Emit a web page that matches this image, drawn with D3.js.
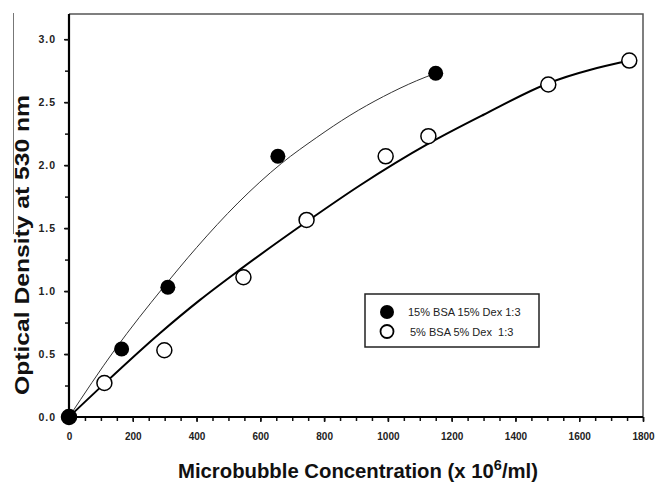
<!DOCTYPE html>
<html>
<head>
<meta charset="utf-8">
<script src="https://cdn.jsdelivr.net/npm/d3@7"></script>
<style>
  html, body { margin: 0; padding: 0; background: #fff; }
  svg { display: block; font-family: Arial, "Liberation Sans", sans-serif; }
</style>
</head>
<body>
<div id="chart"></div>
<script>
// measured points
const bsa15X = [0, 165, 310, 655, 1150];
const bsa15Y = [0, 0.54, 1.03, 2.07, 2.73];
const bsa5X = [0, 111, 299, 547, 745, 993, 1127, 1503, 1757];
const bsa5Y = [0, 0.27, 0.53, 1.11, 1.565, 2.07, 2.23, 2.64, 2.83];

// fitted curves
const fit15X = [0, 144, 296, 400, 530, 667, 777, 881, 986, 1090, 1150];
const fit15Y = [0, 0.535, 1.03, 1.345, 1.70, 2.015, 2.22, 2.395, 2.545, 2.67, 2.73];
const fit5X = [0, 111, 285, 411, 536, 745, 913, 1127, 1300, 1503, 1757];
const fit5Y = [0, 0.265, 0.665, 0.93, 1.17, 1.55, 1.84, 2.17, 2.40, 2.65, 2.83];

const xTicks = [0, 200, 400, 600, 800, 1000, 1200, 1400, 1600, 1800];
const yTicks = [0.0, 0.5, 1.0, 1.5, 2.0, 2.5, 3.0];
const legendLabels = ["15% BSA 15% Dex 1:3", "5% BSA 5% Dex\u00a0 1:3"];

const width = 659, height = 483;
const margin = { top: 14, left: 69, right: 16, bottom: 66 };
const innerW = width - margin.left - margin.right;
const innerH = height - margin.top - margin.bottom;

const svg = d3.select("#chart").append("svg")
  .attr("width", width)
  .attr("height", height);

const x = d3.scaleLinear().domain([0, 1800]).range([0, innerW]);
const y = d3.scaleLinear().domain([0, 3.2]).range([innerH, 0]);

// stray scan line at the left edge
svg.append("line")
  .attr("x1", 13.5).attr("x2", 13.5)
  .attr("y1", 13).attr("y2", 234)
  .attr("stroke", "#777").attr("stroke-width", 1);

const g = svg.append("g")
  .attr("transform", `translate(${margin.left}, ${margin.top})`);

// frame top/right
g.append("path")
  .attr("d", `M0,0H${innerW}V${innerH}`)
  .attr("fill", "none")
  .attr("stroke", "#555")
  .attr("stroke-width", 1.5);

// minor ticks
const xAxisMinor = d3.axisBottom(x)
  .tickValues(d3.range(0, 1801, 50))
  .tickSize(4).tickFormat("");
const yAxisMinor = d3.axisLeft(y)
  .tickValues(d3.range(0, 3.01, 0.25))
  .tickSize(4).tickFormat("");

g.append("g")
  .attr("transform", `translate(0, ${innerH})`)
  .call(xAxisMinor)
  .call(a => a.select(".domain").remove())
  .selectAll("line").attr("stroke", "#111").attr("stroke-width", 1.5);

g.append("g")
  .call(yAxisMinor)
  .call(a => a.select(".domain").remove())
  .selectAll("line").attr("stroke", "#111").attr("stroke-width", 1.5);

const xAxis = g.append("g")
  .attr("transform", `translate(0, ${innerH})`)
  .call(d3.axisBottom(x).tickValues(xTicks).tickSize(5).tickSizeOuter(0).tickPadding(11).tickFormat(d3.format("d")));

const yAxis = g.append("g")
  .call(d3.axisLeft(y).tickValues(yTicks).tickSize(5).tickSizeOuter(0).tickPadding(8).tickFormat(d3.format(".1f")));

[xAxis, yAxis].forEach(a => {
  a.select(".domain").attr("stroke", "#000").attr("stroke-width", 2.2)
    .attr("d", a === xAxis ? `M0,0H${innerW}` : `M0,${innerH}V0`);
  a.selectAll(".tick line").attr("stroke", "#111").attr("stroke-width", 1.5);
  a.selectAll(".tick text")
    .attr("fill", "#222")
    .style("font-size", "10px")
    .style("font-weight", "bold");
});
yAxis.selectAll(".tick text")
  .style("font-size", "10.5px")
  .style("letter-spacing", "1px");

// curves
const line = d3.line()
  .x(d => x(d[0]))
  .y(d => y(d[1]))
  .curve(d3.curveMonotoneX);

g.append("path")
  .datum(d3.zip(fit15X, fit15Y))
  .attr("fill", "none")
  .attr("stroke", "#333")
  .attr("stroke-width", 1)
  .attr("d", line);

g.append("path")
  .datum(d3.zip(fit5X, fit5Y))
  .attr("fill", "none")
  .attr("stroke", "#000")
  .attr("stroke-width", 2)
  .attr("d", line);

// points
g.selectAll(".p5")
  .data(d3.zip(bsa5X, bsa5Y))
  .join("circle")
  .attr("class", "p5")
  .attr("cx", d => x(d[0]))
  .attr("cy", d => y(d[1]))
  .attr("r", 7.5)
  .attr("fill", "#fff")
  .attr("stroke", "#000")
  .attr("stroke-width", 1.5);

g.selectAll(".p15")
  .data(d3.zip(bsa15X, bsa15Y))
  .join("circle")
  .attr("class", "p15")
  .attr("cx", d => x(d[0]))
  .attr("cy", d => y(d[1]))
  .attr("r", 7.5)
  .attr("fill", "#000");

// legend
const legend = svg.append("g").attr("transform", "translate(365, 294)");
legend.append("rect")
  .attr("width", 174).attr("height", 53)
  .attr("fill", "#fff")
  .attr("stroke", "#222").attr("stroke-width", 1.5);

legendLabels.forEach((label, i) => {
  legend.append("circle")
    .attr("cx", 22).attr("cy", 18 + i * 19.5)
    .attr("r", i === 0 ? 7 : 6.5)
    .attr("fill", i === 0 ? "#000" : "#fff")
    .attr("stroke", "#000")
    .attr("stroke-width", i === 0 ? 0 : 1.8);
  legend.append("text")
    .attr("x", i === 0 ? 43 : 45)
    .attr("y", 22 + i * 19.5)
    .style("font-size", "11px")
    .attr("fill", "#222")
    .text(label);
});

// titles
const xTitle = svg.append("text")
  .attr("x", 178).attr("y", 478)
  .attr("textLength", 360)
  .attr("lengthAdjust", "spacingAndGlyphs")
  .style("font-size", "21px")
  .style("font-weight", "bold")
  .attr("fill", "#111");
xTitle.append("tspan").text("Microbubble Concentration (x 10");
xTitle.append("tspan").attr("dy", -8).style("font-size", "15px").text("6");
xTitle.append("tspan").attr("dy", 8).text("/ml)");

svg.append("text")
  .attr("transform", "translate(29, 245) rotate(-90)")
  .attr("text-anchor", "middle")
  .attr("textLength", 300)
  .attr("lengthAdjust", "spacingAndGlyphs")
  .style("font-size", "21px")
  .style("font-weight", "bold")
  .attr("fill", "#111")
  .text("Optical Density at 530 nm");
</script>
</body>
</html>
